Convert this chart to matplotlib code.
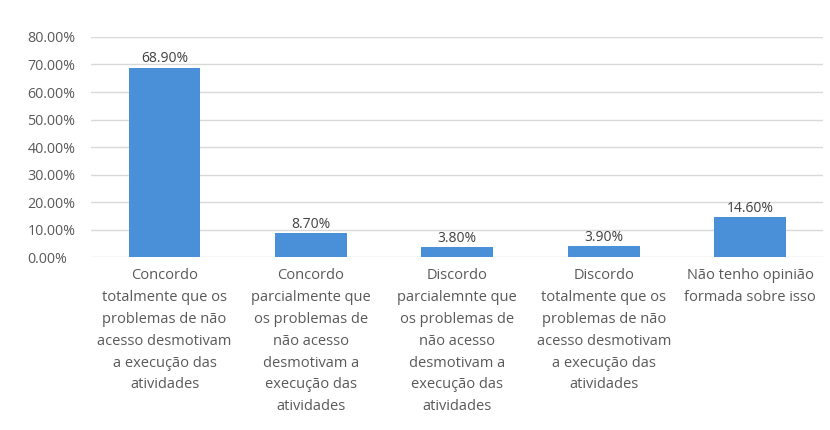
import numpy as np
import matplotlib.pyplot as plt

# categories and values (share of answers)
categories = [
    "Concordo\ntotalmente que os\nproblemas de não\nacesso desmotivam\na execução das\natividades",
    "Concordo\nparcialmente que\nos problemas de\nnão acesso\ndesmotivam a\nexecução das\natividades",
    "Discordo\nparcialemnte que\nos problemas de\nnão acesso\ndesmotivam a\nexecução das\natividades",
    "Discordo\ntotalmente que os\nproblemas de não\nacesso desmotivam\na execução das\natividades",
    "Não tenho opinião\nformada sobre isso",
]
values = [0.689, 0.087, 0.038, 0.039, 0.146]
value_labels = ["68.90%", "8.70%", "3.80%", "3.90%", "14.60%"]
yticks = [0.0, 0.1, 0.2, 0.3, 0.4, 0.5, 0.6, 0.7, 0.8]

plt.rcParams['font.family'] = ['Open Sans', 'DejaVu Sans']
txt = '#595959'

fig = plt.figure(figsize=(8.3, 4.3), dpi=100)
ax = fig.add_axes([0.11, 0.402, 0.882, 0.512])

x = np.arange(len(values))
ax.bar(x, values, width=0.49, color='#4A90D9', zorder=3)

for xi, v, lab in zip(x, values, value_labels):
    ax.text(xi, v + 0.004, lab, ha='center', va='bottom', fontsize=10, color='#404040')

ax.set_xlim(-0.5, len(values) - 0.5)
ax.set_ylim(0, 0.8)
ax.set_yticks(yticks)
ax.set_yticklabels([f"{t * 100:.2f}%" for t in yticks], fontsize=10.3, color=txt, ha='left')
ax.set_xticks(x)
ax.set_xticklabels(categories, fontsize=10.5, color=txt, linespacing=1.62)
ax.tick_params(axis='both', length=0)
ax.tick_params(axis='x', pad=8)
ax.tick_params(axis='y', pad=46)
ax.grid(axis='y', color='#d9d9d9', linewidth=1, zorder=0)
for s in ax.spines.values():
    s.set_visible(False)

fig.savefig('out.png', dpi=100)
